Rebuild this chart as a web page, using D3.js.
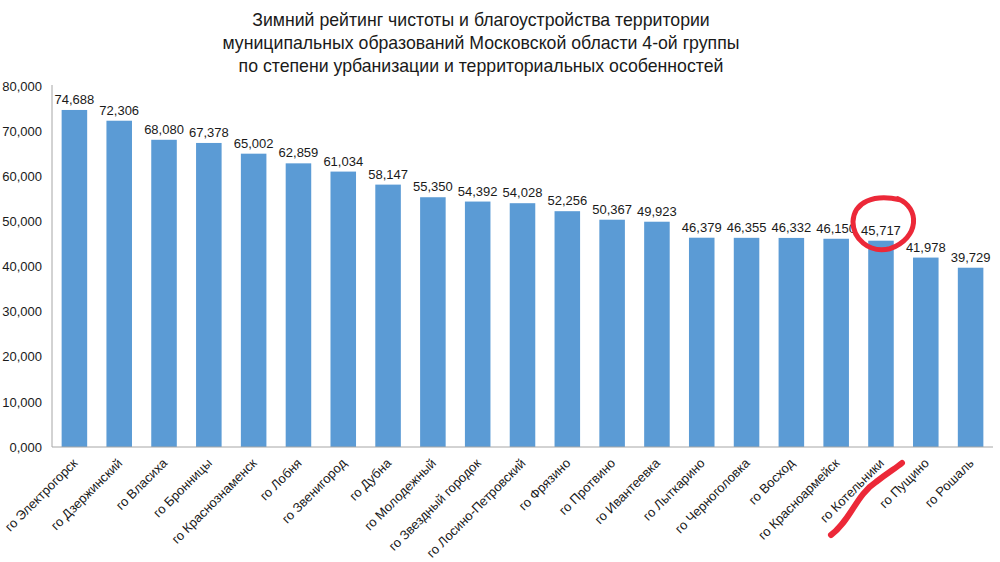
<!DOCTYPE html>
<html lang="ru">
<head>
<meta charset="UTF-8">
<title>Зимний рейтинг</title>
<script src="https://d3js.org/d3.v7.min.js"></script>
<style>
    body { margin: 0; background: #fff; }
    svg text { font-family: "Liberation Sans", Arial, sans-serif; fill: #1a1a1a; }
</style>
</head>
<body>
<svg id="chart" width="1000" height="562"></svg>
<script>
    // data
    let titleLines = [
        "Зимний рейтинг чистоты и благоустройства территории",
        "муниципальных образований Московской области 4-ой группы",
        "по степени урбанизации и территориальных особенностей"
    ]
    let cities = ["го Электрогорск", "го Дзержинский", "го Власиха", "го Бронницы", "го Краснознаменск",
        "го Лобня", "го Звенигород", "го Дубна", "го Молодежный", "го Звездный городок",
        "го Лосино-Петровский", "го Фрязино", "го Протвино", "го Ивантеевка", "го Лыткарино",
        "го Черноголовка", "го Восход", "го Красноармейск", "го Котельники", "го Пущино", "го Рошаль"]
    let scores = [74688, 72306, 68080, 67378, 65002, 62859, 61034, 58147, 55350, 54392,
        54028, 52256, 50367, 49923, 46379, 46355, 46332, 46150, 45717, 41978, 39729]
    let yTicks = [0, 10000, 20000, 30000, 40000, 50000, 60000, 70000, 80000]
    let marked = "го Котельники"

    let svg = d3.select("#chart")

    // title
    svg.append("g").selectAll("text")
        .data(titleLines)
        .join("text")
        .attr("x", 481)
        .attr("y", (d, i) => 26 + i * 23)
        .attr("text-anchor", "middle")
        .attr("font-size", "17.7px")
        .text(d => d)

    let x = d3.scaleBand().domain(cities).range([52, 993]).paddingInner(0.43).paddingOuter(0.215)
    let y = d3.scaleLinear().domain([0, 80000]).range([447, 86])

    // number format like "10,000" and "0,000"
    let fmt = v => v === 0 ? "0,000" : d3.format(",")(v)

    // y axis
    let yAxis = svg.append("g")
        .attr("transform", "translate(52,0)")
        .call(d3.axisLeft(y).tickValues(yTicks).tickFormat(fmt).tickSize(0).tickPadding(10))
    yAxis.select(".domain").attr("stroke", "#a6a6a6").attr("d", "M0,85V447")
    yAxis.selectAll("text").attr("font-size", "13px").attr("font-family", "Liberation Sans, Arial, sans-serif")

    // bars
    svg.append("g").selectAll("rect")
        .data(scores)
        .join("rect")
        .attr("x", (d, i) => x(cities[i]))
        .attr("width", x.bandwidth())
        .attr("y", d => y(d))
        .attr("height", d => y(0) - y(d))
        .attr("fill", "#5b9bd5")

    // value labels
    svg.append("g").selectAll("text")
        .data(scores)
        .join("text")
        .attr("x", (d, i) => x(cities[i]) + x.bandwidth() / 2)
        .attr("y", d => y(d) - 6)
        .attr("text-anchor", "middle")
        .attr("font-size", "13px")
        .text(d => d3.format(",")(d))

    // x axis
    let xAxis = svg.append("g")
        .attr("transform", "translate(0,447)")
        .call(d3.axisBottom(x).tickSize(0).tickPadding(0))
    xAxis.select(".domain").attr("stroke", "#a6a6a6").attr("d", "M52,0H993")
    xAxis.selectAll("text")
        .attr("font-size", "13px")
        .attr("font-family", "Liberation Sans, Arial, sans-serif")
        .attr("text-anchor", "end")
        .attr("dy", null)
        .attr("y", 0)
        .attr("transform", "translate(4,17) rotate(-45)")

    // hand drawn red marks
    let cx = x(marked) + x.bandwidth() / 2 + 3
    let cy = y(scores[cities.indexOf(marked)]) - 17
    svg.append("path")
        .attr("d", `M${cx + 14},${cy - 25} C${cx + 36},${cy - 16} ${cx + 36},${cy + 14} ${cx + 6},${cy + 25}
                    C${cx - 16},${cy + 30} ${cx - 31},${cy + 14} ${cx - 31},${cy - 2}
                    C${cx - 30},${cy - 22} ${cx - 10},${cy - 30} ${cx + 16},${cy - 24}`)
        .attr("fill", "none")
        .attr("stroke", "#ec2838")
        .attr("stroke-width", 5)
        .attr("stroke-linecap", "round")
    svg.append("path")
        .attr("d", `M${cx - 53},535 C${cx - 33},520 ${cx - 28},495 ${cx - 8},482 C${cx + 5},472 ${cx + 12},468 ${cx + 18},463`)
        .attr("fill", "none")
        .attr("stroke", "#ec2838")
        .attr("stroke-width", 6)
        .attr("stroke-linecap", "round")
</script>
</body>
</html>
